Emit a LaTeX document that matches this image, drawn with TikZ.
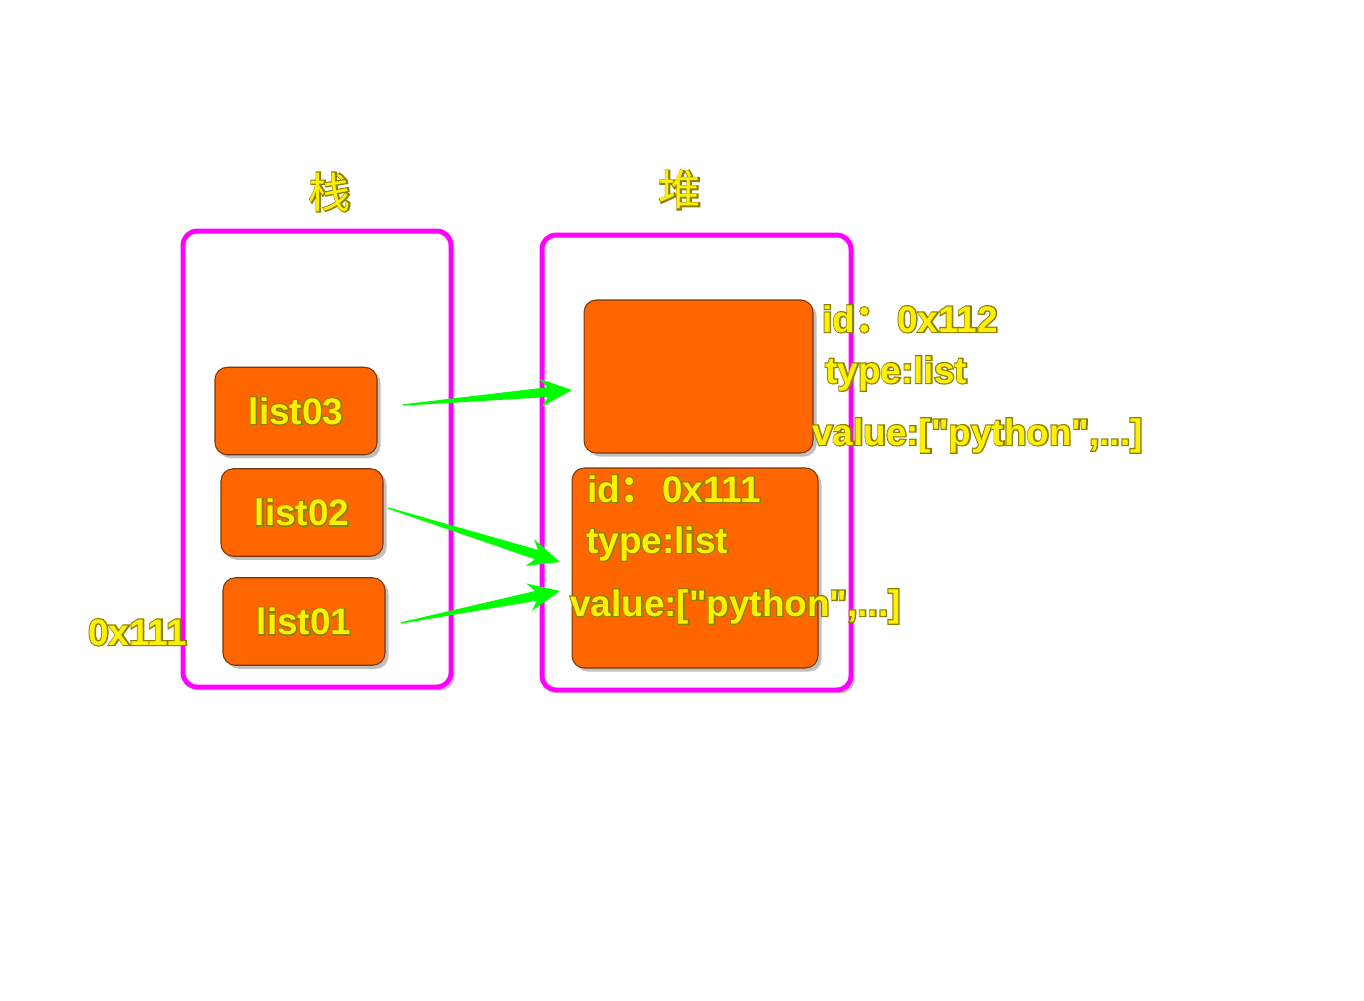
\documentclass[tikz,border=0pt]{standalone}
\usepackage{fontspec}
\setmainfont{Liberation Sans}
\newfontfamily\cjk{Noto Sans CJK SC}
\usetikzlibrary{calc,shadows}
\definecolor{boxorange}{RGB}{255,102,0}
\definecolor{boxbrown}{RGB}{120,55,10}
\definecolor{framepink}{RGB}{255,0,255}
\definecolor{arrowgreen}{RGB}{0,255,0}
\definecolor{textyellow}{RGB}{255,240,0}
% outlined text: olive stroke behind, yellow fill on top
\newcommand{\outl}[1]{\rlap{\special{pdf:code 1 Tr 1.4 w 0.55 0.5 0 RG}#1\special{pdf:code 0 Tr}}#1}
\tikzset{
  memframe/.style={draw=framepink, line width=2.8pt, fill=white, rounded corners=8pt, inner sep=0pt,
    drop shadow={shadow xshift=2pt, shadow yshift=-2pt, opacity=0.5}},
  obj/.style={draw=boxbrown, line width=0.6pt, fill=boxorange, rounded corners=7pt, inner sep=0pt,
    drop shadow={shadow xshift=2pt, shadow yshift=-2pt, opacity=0.5}},
  lbl/.style={text=textyellow, font=\bfseries\fontsize{21}{25}\selectfont, inner sep=0pt},
  areatitle/.style={text=textyellow, font=\cjk\fontsize{24}{28}\selectfont, inner sep=0pt},
}
\begin{document}
\begin{tikzpicture}[x=0.02cm, y=-0.02cm]
    \useasboundingbox (0,0) rectangle (1364,1000);
    % Draw the two memory areas
    \node[memframe, minimum width=5.36cm, minimum height=9.12cm] (stack) at (317,459) {};
    \node[memframe, minimum width=6.18cm, minimum height=9.10cm] (heap) at (696.5,462.5) {};
    \node[areatitle] (stacktitle) at (330,192) {\outl{栈}};
    \node[areatitle] (heaptitle) at (680,190) {\outl{堆}};
    % Draw the variables on the stack
    \foreach \i/\x/\y in {1/304/621.5, 2/302/512.5, 3/296/411} {
        \node[obj, lbl, minimum width=3.24cm, minimum height=1.75cm] (s\i) at (\x,\y) {\outl{list0\i}};
    }
    % Draw the objects on the heap
    \node[obj, minimum width=4.58cm, minimum height=3.06cm] (h2) at (698.5,376.5) {};
    \node[obj, minimum width=4.92cm, minimum height=4.00cm] (h1) at (695,568) {};
    % Draw the references
    \coordinate (a3) at (403,405);
    \coordinate (b3) at (572,390);
    \coordinate (a2) at (388,508);
    \coordinate (b2) at (560,562);
    \coordinate (a1) at (401,623);
    \coordinate (b1) at (560,591);
    \foreach \i in {1,2,3} {
        \fill[arrowgreen] ($(a\i)!0.4pt!90:(b\i)$)
            -- ($(b\i)!14pt!(a\i)!2.8pt!-90:(a\i)$)
            -- ($(b\i)!18pt!(a\i)!8pt!-90:(a\i)$)
            -- (b\i)
            -- ($(b\i)!18pt!(a\i)!8pt!90:(a\i)$)
            -- ($(b\i)!14pt!(a\i)!2.8pt!90:(a\i)$)
            -- ($(a\i)!0.4pt!-90:(b\i)$) -- cycle;
    }
    % Draw the object attributes
    \node[lbl, anchor=base west] (id2) at (822,332) {\outl{id{\cjk ：}\hspace{3pt}0x112}};
    \node[lbl, anchor=base west] (type2) at (825,383) {\outl{type:list}};
    \node[lbl, anchor=base west] (val2) at (812,445) {\outl{value:[\textquotedbl python\textquotedbl,...]}};
    \node[lbl, anchor=base west] (id1) at (587,502) {\outl{id{\cjk ：}\hspace{3pt}0x111}};
    \node[lbl, anchor=base west] (type1) at (586,553) {\outl{type:list}};
    \node[lbl, anchor=base west] (val1) at (570,616) {\outl{value:[\textquotedbl python\textquotedbl,...]}};
    \node[lbl, anchor=base west] (addr) at (88,645) {\outl{0x111}};
\end{tikzpicture}
\end{document}
